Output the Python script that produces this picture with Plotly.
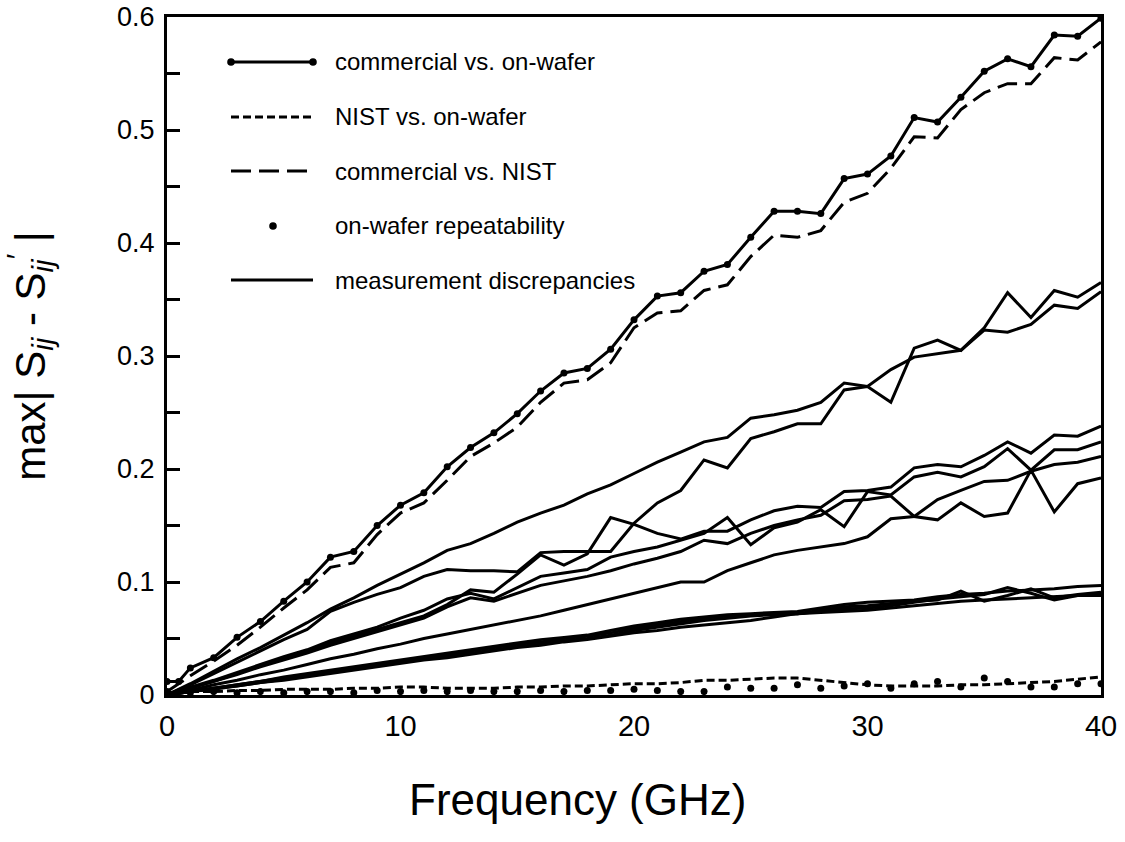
import plotly.graph_objects as go

# ---------------- data ----------------
freq = list(range(0, 41))
freq_cw = [0, 0.5] + list(range(1, 41))

commercial_vs_onwafer = [0.012, 0.012, 0.024, 0.033, 0.051, 0.065, 0.083, 0.100, 0.122, 0.127, 0.150,
                         0.168, 0.179, 0.202, 0.219, 0.232, 0.249, 0.269, 0.285, 0.289, 0.306,
                         0.332, 0.353, 0.356, 0.375, 0.381, 0.405, 0.428, 0.428, 0.426, 0.457,
                         0.461, 0.477, 0.511, 0.507, 0.529, 0.552, 0.563, 0.556, 0.584, 0.583, 0.599]

commercial_vs_nist = [0.003, 0.017, 0.030, 0.044, 0.060, 0.077, 0.093, 0.113, 0.117, 0.142,
                      0.161, 0.170, 0.190, 0.211, 0.223, 0.237, 0.259, 0.276, 0.279, 0.294,
                      0.325, 0.338, 0.340, 0.358, 0.363, 0.388, 0.407, 0.405, 0.411, 0.436,
                      0.444, 0.466, 0.494, 0.493, 0.518, 0.533, 0.541, 0.541, 0.564, 0.562, 0.578]

nist_vs_onwafer = [0.002, 0.003, 0.003, 0.004, 0.004, 0.005, 0.005, 0.005, 0.006, 0.006,
                   0.007, 0.007, 0.006, 0.006, 0.006, 0.007, 0.007, 0.008, 0.008, 0.009,
                   0.010, 0.010, 0.011, 0.013, 0.013, 0.014, 0.015, 0.015, 0.013, 0.011,
                   0.009, 0.008, 0.008, 0.008, 0.009, 0.009, 0.010, 0.011, 0.012, 0.014, 0.016]

onwafer_repeatability = [0.003, 0.002, 0.003, 0.002, 0.003, 0.002, 0.003, 0.003, 0.002, 0.004,
                         0.003, 0.004, 0.003, 0.004, 0.003, 0.003, 0.004, 0.003, 0.004, 0.004,
                         0.005, 0.004, 0.003, 0.003, 0.007, 0.006, 0.006, 0.009, 0.006, 0.008,
                         0.010, 0.006, 0.010, 0.012, 0.007, 0.015, 0.012, 0.007, 0.007, 0.010, 0.010]

discrepancies = {
    "A1": [0.000, 0.010, 0.021, 0.032, 0.042, 0.053, 0.064, 0.076, 0.086, 0.097,
           0.107, 0.117, 0.128, 0.134, 0.143, 0.153, 0.161, 0.168, 0.178, 0.186,
           0.196, 0.206, 0.215, 0.224, 0.228, 0.245, 0.248, 0.252, 0.259, 0.276,
           0.273, 0.288, 0.299, 0.302, 0.305, 0.323, 0.321, 0.328, 0.345, 0.342, 0.357],
    "A2": [0.000, 0.009, 0.019, 0.029, 0.039, 0.049, 0.058, 0.074, 0.082, 0.089,
           0.095, 0.105, 0.111, 0.110, 0.110, 0.109, 0.126, 0.127, 0.127, 0.127,
           0.152, 0.170, 0.181, 0.208, 0.201, 0.227, 0.233, 0.240, 0.240, 0.270,
           0.273, 0.259, 0.307, 0.314, 0.305, 0.325, 0.356, 0.334, 0.358, 0.352, 0.365],
    "B1": [0.000, 0.006, 0.012, 0.019, 0.026, 0.032, 0.039, 0.046, 0.052, 0.058,
           0.064, 0.070, 0.080, 0.093, 0.091, 0.107, 0.124, 0.115, 0.125, 0.157,
           0.151, 0.143, 0.138, 0.145, 0.145, 0.155, 0.163, 0.167, 0.166, 0.180,
           0.181, 0.184, 0.201, 0.204, 0.202, 0.212, 0.224, 0.214, 0.230, 0.229, 0.238],
    "B2": [0.000, 0.007, 0.013, 0.020, 0.027, 0.034, 0.040, 0.048, 0.054, 0.060,
           0.068, 0.075, 0.085, 0.090, 0.085, 0.095, 0.105, 0.108, 0.111, 0.122,
           0.127, 0.131, 0.137, 0.143, 0.157, 0.133, 0.148, 0.153, 0.164, 0.149,
           0.180, 0.177, 0.193, 0.197, 0.193, 0.202, 0.218, 0.199, 0.217, 0.217, 0.224],
    "B4": [0.000, 0.006, 0.012, 0.018, 0.025, 0.031, 0.037, 0.044, 0.050, 0.056,
           0.062, 0.068, 0.078, 0.086, 0.083, 0.090, 0.097, 0.101, 0.105, 0.110,
           0.116, 0.121, 0.127, 0.137, 0.134, 0.143, 0.150, 0.155, 0.159, 0.172,
           0.173, 0.176, 0.158, 0.155, 0.170, 0.158, 0.161, 0.199, 0.162, 0.187, 0.192],
    "B3": [0.000, 0.004, 0.009, 0.013, 0.018, 0.022, 0.027, 0.032, 0.036, 0.041,
           0.045, 0.050, 0.054, 0.058, 0.062, 0.066, 0.070, 0.075, 0.080, 0.085,
           0.090, 0.095, 0.100, 0.100, 0.110, 0.117, 0.124, 0.128, 0.131, 0.134,
           0.140, 0.156, 0.158, 0.173, 0.181, 0.189, 0.190, 0.198, 0.204, 0.206, 0.211],
    "C1": [0.000, 0.003, 0.006, 0.009, 0.012, 0.016, 0.019, 0.022, 0.025, 0.028,
           0.031, 0.034, 0.037, 0.040, 0.043, 0.046, 0.049, 0.051, 0.053, 0.057,
           0.061, 0.064, 0.067, 0.069, 0.071, 0.072, 0.073, 0.074, 0.077, 0.080,
           0.082, 0.083, 0.084, 0.087, 0.089, 0.090, 0.092, 0.093, 0.094, 0.096, 0.097],
    "C2": [0.000, 0.003, 0.006, 0.009, 0.012, 0.015, 0.018, 0.021, 0.024, 0.027,
           0.030, 0.033, 0.036, 0.039, 0.042, 0.045, 0.047, 0.050, 0.052, 0.055,
           0.059, 0.062, 0.065, 0.068, 0.070, 0.071, 0.072, 0.072, 0.075, 0.078,
           0.079, 0.081, 0.083, 0.084, 0.092, 0.083, 0.088, 0.094, 0.086, 0.089, 0.091],
    "C3": [0.000, 0.003, 0.006, 0.008, 0.011, 0.014, 0.017, 0.020, 0.023, 0.026,
           0.029, 0.032, 0.035, 0.037, 0.040, 0.043, 0.045, 0.048, 0.050, 0.053,
           0.057, 0.060, 0.063, 0.066, 0.068, 0.070, 0.071, 0.072, 0.074, 0.076,
           0.077, 0.079, 0.082, 0.085, 0.087, 0.089, 0.095, 0.090, 0.084, 0.088, 0.090],
    "C4": [0.000, 0.003, 0.005, 0.008, 0.011, 0.013, 0.016, 0.019, 0.022, 0.025,
           0.028, 0.031, 0.033, 0.036, 0.039, 0.042, 0.044, 0.047, 0.049, 0.052,
           0.055, 0.057, 0.060, 0.062, 0.064, 0.066, 0.069, 0.072, 0.073, 0.074,
           0.075, 0.077, 0.079, 0.081, 0.083, 0.084, 0.085, 0.086, 0.087, 0.088, 0.088],
}

legend_labels = ["commercial vs. on-wafer", "NIST vs. on-wafer", "commercial vs. NIST",
                 "on-wafer repeatability", "measurement discrepancies"]
x_title = "Frequency (GHz)"
y_title = "max| S<sub><i>ij</i></sub> - S<sub><i>ij</i></sub><sup>′</sup> |"

# ---------------- figure ----------------
BLACK = "#000000"
LW = 3
FONT = "Liberation Sans, Arial, sans-serif"
fig = go.Figure()

for name, vals in discrepancies.items():
    fig.add_trace(go.Scatter(x=freq, y=vals, mode="lines",
                             line=dict(color=BLACK, width=LW), showlegend=False))

fig.add_trace(go.Scatter(x=freq, y=commercial_vs_nist, mode="lines",
                         line=dict(color=BLACK, width=LW, dash="20px,8px"), showlegend=False))
fig.add_trace(go.Scatter(x=freq, y=nist_vs_onwafer, mode="lines",
                         line=dict(color=BLACK, width=LW, dash="8px,4px"), showlegend=False))
fig.add_trace(go.Scatter(x=freq, y=onwafer_repeatability, mode="markers",
                         marker=dict(color=BLACK, size=7), showlegend=False))
fig.add_trace(go.Scatter(x=freq_cw, y=commercial_vs_onwafer, mode="lines+markers",
                         line=dict(color=BLACK, width=LW),
                         marker=dict(color=BLACK, size=7), showlegend=False))

# ---------------- layout geometry (screen px of the reference) ----------------
W, H = 1125, 842
PL, PR, PT, PB = 167, 1101, 17, 695          # plot frame in screen px
L, T, R, B = PL, PT, W - PR, H - PB
pw, ph = PR - PL, PB - PT

def px(x):
    return (x - PL) / pw

def py(y):
    return (PB - y) / ph

rows_y = [62, 117, 171, 226, 280]
x0, x1, xt = 231, 313, 333
styles = ["solid", "8px,4px", "20px,8px", None, "solid"]
shapes = []
for i, (yy, st) in enumerate(zip(rows_y, styles)):
    if st is not None:
        shapes.append(dict(type="line", xref="paper", yref="paper",
                           x0=px(x0), x1=px(x1), y0=py(yy), y1=py(yy),
                           line=dict(color=BLACK, width=LW, dash=st)))
    fig.add_annotation(x=px(xt), y=py(yy), xref="paper", yref="paper",
                       text=legend_labels[i], showarrow=False, xanchor="left", yanchor="middle",
                       font=dict(family=FONT, size=24, color=BLACK))
for cx, cy in [(x0, rows_y[0]), (x1, rows_y[0]), (273, rows_y[3])]:
    r = 3.8
    shapes.append(dict(type="circle", xref="paper", yref="paper",
                       x0=px(cx - r), x1=px(cx + r), y0=py(cy + r), y1=py(cy - r),
                       fillcolor=BLACK, line=dict(color=BLACK, width=0)))

# x-axis title (sits left of the plot centre in the reference)
fig.add_annotation(x=px(577), y=py(800), xref="paper", yref="paper", text=x_title,
                   showarrow=False, xanchor="center", yanchor="middle",
                   font=dict(family=FONT, size=44, color=BLACK))

fig.update_layout(
    width=W, height=H,
    margin=dict(l=L, r=R, t=T, b=B, autoexpand=False),
    paper_bgcolor="white", plot_bgcolor="white",
    font=dict(family=FONT, color=BLACK),
    shapes=shapes,
    showlegend=False,
)

fig.update_xaxes(range=[0, 40], tickvals=[0, 10, 20, 30, 40], ticks="",
                 showgrid=False, zeroline=False,
                 showline=True, linecolor=BLACK, linewidth=3, mirror=True,
                 tickfont=dict(size=29), ticklabelstandoff=3, ticklabeloverflow="allow")
fig.update_yaxes(range=[0, 0.6], tickvals=[0, 0.1, 0.2, 0.3, 0.4, 0.5, 0.6],
                 ticktext=["0", "0.1", "0.2", "0.3", "0.4", "0.5", "0.6"],
                 ticks="inside", ticklen=13, tickwidth=2.5, tickcolor=BLACK,
                 minor=dict(tickvals=[0.05, 0.15, 0.25, 0.35, 0.45, 0.55], ticks="inside",
                            ticklen=13, tickwidth=2.5, tickcolor=BLACK),
                 showgrid=False, zeroline=False,
                 showline=True, linecolor=BLACK, linewidth=3, mirror=True,
                 tickfont=dict(size=27), ticklabelstandoff=4, ticklabeloverflow="allow",
                 title=dict(text=y_title, font=dict(size=42), standoff=66))

fig.write_html("out.html", config={"displayModeBar": False},
               post_script="document.body.style.margin='0';")
